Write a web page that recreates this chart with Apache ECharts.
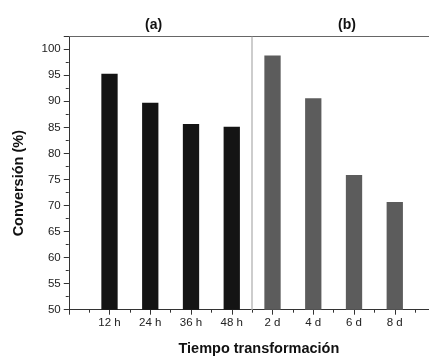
<!DOCTYPE html>
<html>
<head>
<meta charset="utf-8">
<script src="https://cdn.jsdelivr.net/npm/echarts@6/dist/echarts.min.js"></script>
<style>
html,body{margin:0;padding:0;background:#fff;}
#chart{width:429px;height:356px;}
</style>
</head>
<body>
<div id="chart"></div>
<script>
// categories sit at x = 1..8 on a value axis
var categories = ['12 h', '24 h', '36 h', '48 h', '2 d', '4 d', '6 d', '8 d'];
var groupA = [95.3, 89.7, 85.65, 85.1];
var groupB = [98.8, 90.6, 75.85, 70.65];
var yTicks = [50, 55, 60, 65, 70, 75, 80, 85, 90, 95, 100];

var myChart = echarts.init(document.getElementById('chart'));

var barData = [];
for (var i = 0; i < groupA.length; i++) {
	barData.push({ value: [i + 1, groupA[i]], itemStyle: { color: '#141414' } });
}
for (var j = 0; j < groupB.length; j++) {
	barData.push({ value: [groupA.length + j + 1, groupB[j]], itemStyle: { color: '#5c5c5c' } });
}

var font = 'Liberation Sans, Arial, sans-serif';

var option = {
	animation: false,
	title: [{
		text: '(a)', left: 140, top: 13,
		textStyle: { fontFamily: font, fontSize: 14, fontWeight: 'bold', color: '#111' }
	}, {
		text: '(b)', left: 333, top: 13,
		textStyle: { fontFamily: font, fontSize: 14, fontWeight: 'bold', color: '#111' }
	}],
	grid: { left: 68.75, right: 0, top: 36.7, bottom: 46.3, outerBoundsMode: 'none' },
	xAxis: [{
		type: 'value', min: 0, max: 8.84, interval: 1,
		position: 'bottom',
		name: 'Tiempo transformación',
		nameLocation: 'middle', nameGap: 32,
		nameTextStyle: { fontFamily: font, fontSize: 14.5, fontWeight: 'bold', color: '#111', padding: [0, 0, 0, 20] },
		axisLine: { lineStyle: { color: '#333', width: 1 } },
		axisTick: { length: 5, lineStyle: { color: '#333' } },
		splitLine: { show: false },
		axisLabel: {
			fontFamily: font, fontSize: 11.5, color: '#222', margin: 7,
			showMaxLabel: false,
			formatter: function (v) {
				return (Math.round(v) === v && v >= 1 && v <= categories.length) ? categories[v - 1] : '';
			}
		}
	}, {
		// half-step minor ticks
		type: 'value', min: 0, max: 8.84, interval: 0.5,
		position: 'bottom',
		axisLine: { show: false },
		axisTick: { length: 3, lineStyle: { color: '#333' } },
		axisLabel: { show: false },
		splitLine: { show: false }
	}, {
		// top frame line
		type: 'value', min: 0, max: 8.84,
		position: 'top',
		axisLine: { lineStyle: { color: '#666', width: 1 } },
		axisTick: { show: false },
		axisLabel: { show: false },
		splitLine: { show: false }
	}],
	yAxis: [{
		type: 'value', min: 50, max: 102.4, interval: 5,
		position: 'left',
		name: 'Conversión (%)',
		nameLocation: 'middle', nameGap: 42,
		nameTextStyle: { fontFamily: font, fontSize: 14.5, fontWeight: 'bold', color: '#111', padding: [0, 20, 0, 0] },
		axisLine: { show: true, lineStyle: { color: '#333', width: 1 } },
		axisTick: { show: true, length: 5, lineStyle: { color: '#333' } },
		splitLine: { show: false },
		axisLabel: {
			fontFamily: font, fontSize: 11.5, color: '#222', margin: 8,
			formatter: function (v) {
				return yTicks.indexOf(v) >= 0 ? String(v) : '';
			}
		}
	}, {
		type: 'value', min: 50, max: 102.4, interval: 2.5,
		position: 'left',
		axisLine: { show: false },
		axisTick: { show: true, length: 3, lineStyle: { color: '#333' } },
		axisLabel: { show: false },
		splitLine: { show: false }
	}],
	series: [{
		type: 'bar',
		xAxisIndex: 0,
		yAxisIndex: 0,
		barWidth: 16.3,
		data: barData,
		markLine: {
			silent: true,
			symbol: 'none',
			label: { show: false },
			lineStyle: { color: '#bdbdbd', type: 'solid', width: 1.5 },
			data: [{ xAxis: 4.5 }]
		}
	}]
};
myChart.setOption(option);
</script>
</body>
</html>
